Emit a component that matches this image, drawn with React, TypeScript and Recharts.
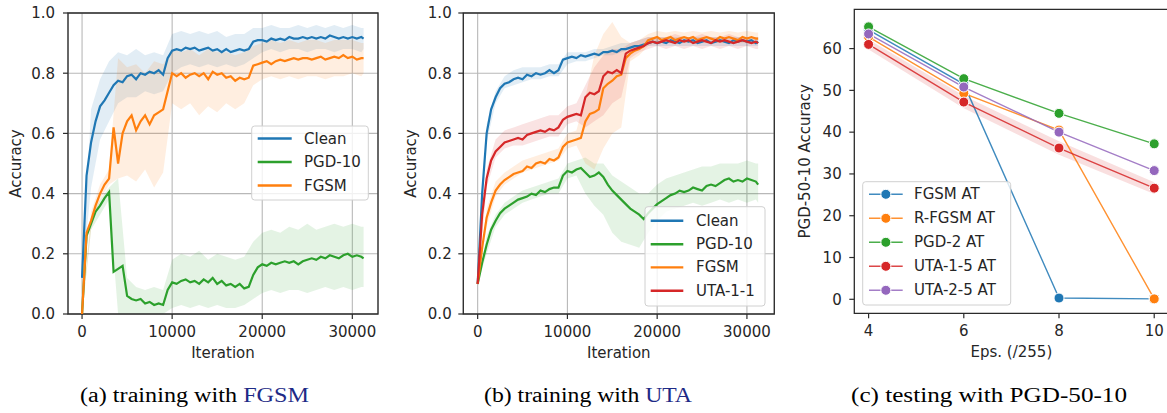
import React from 'react';
import { ComposedChart, Line, Area, XAxis, YAxis, CartesianGrid, ReferenceArea } from 'recharts';

// x positions (training iterations) for the mean curves
const iterations = [
  0, 500, 1000, 1500, 2000, 2500, 3000, 3500, 4000, 4500,
  5000, 5500, 6000, 6500, 7000, 7500, 8000, 8500, 9000, 9500,
  10000, 10500, 11000, 11500, 12000, 12500, 13000, 13500, 14000, 14500,
  15000, 15500, 16000, 16500, 17000, 17500, 18000, 18500, 19000, 19500,
  20000, 20500, 21000, 21500, 22000, 22500, 23000, 23500, 24000, 24500,
  25000, 25500, 26000, 26500, 27000, 27500, 28000, 28500, 29000, 29500,
  30000, 30500, 31000, 31250,
];
// coarser x positions for the shaded min/max bands
const bandIterations = [
  0, 1000, 2000, 3000, 4000, 5000, 6000, 7000, 8000, 9000,
  10000, 11000, 12000, 13000, 14000, 15000, 16000, 17000, 18000, 19000,
  20000, 21000, 22000, 23000, 24000, 25000, 26000, 27000, 28000, 29000,
  30000, 31000, 31250,
];
const iterTicks = [0, 10000, 20000, 30000];
const accTicks = [0, 0.2, 0.4, 0.6, 0.8, 1.0];

// (a) training with FGSM
const aClean = [
  0.12, 0.46, 0.57, 0.64, 0.69, 0.71, 0.735, 0.76, 0.775, 0.77,
  0.79, 0.795, 0.78, 0.80, 0.795, 0.805, 0.80, 0.81, 0.795, 0.85,
  0.875, 0.88, 0.875, 0.885, 0.88, 0.885, 0.875, 0.88, 0.885, 0.875,
  0.88, 0.87, 0.88, 0.87, 0.875, 0.88, 0.875, 0.88, 0.905, 0.91,
  0.91, 0.905, 0.915, 0.91, 0.915, 0.91, 0.92, 0.915, 0.915, 0.92,
  0.915, 0.92, 0.915, 0.92, 0.915, 0.925, 0.92, 0.915, 0.92, 0.915,
  0.92, 0.915, 0.92, 0.915,
];
const aPgd = [
  0.0, 0.26, 0.30, 0.34, 0.36, 0.385, 0.405, 0.14, 0.15, 0.16,
  0.06, 0.05, 0.045, 0.05, 0.035, 0.04, 0.03, 0.035, 0.03, 0.08,
  0.105, 0.10, 0.11, 0.115, 0.105, 0.11, 0.10, 0.115, 0.105, 0.12,
  0.10, 0.11, 0.095, 0.10, 0.09, 0.10, 0.085, 0.09, 0.13, 0.155,
  0.165, 0.16, 0.17, 0.165, 0.17, 0.175, 0.17, 0.175, 0.165, 0.175,
  0.18, 0.185, 0.18, 0.19, 0.185, 0.195, 0.19, 0.185, 0.195, 0.20,
  0.19, 0.195, 0.19, 0.185,
];
const aFgsm = [
  0.0, 0.27, 0.31, 0.36, 0.40, 0.43, 0.45, 0.62, 0.50, 0.60,
  0.64, 0.66, 0.61, 0.64, 0.66, 0.63, 0.66, 0.67, 0.68, 0.74,
  0.80, 0.79, 0.80, 0.785, 0.795, 0.80, 0.79, 0.80, 0.78, 0.805,
  0.795, 0.80, 0.785, 0.79, 0.775, 0.785, 0.78, 0.785, 0.825, 0.83,
  0.835, 0.84, 0.83, 0.84, 0.845, 0.84, 0.845, 0.85, 0.845, 0.85,
  0.85, 0.845, 0.85, 0.855, 0.845, 0.85, 0.855, 0.85, 0.86, 0.85,
  0.855, 0.845, 0.85, 0.85,
];
const aCleanLo = [
  0.12, 0.42, 0.58, 0.64, 0.70, 0.72, 0.72, 0.74, 0.73, 0.74,
  0.80, 0.82, 0.83, 0.82, 0.83, 0.82, 0.83, 0.82, 0.83, 0.85,
  0.87, 0.88, 0.87, 0.88, 0.88, 0.87, 0.88, 0.88, 0.87, 0.88,
  0.88, 0.87, 0.88,
];
const aCleanHi = [
  0.13, 0.68, 0.78, 0.84, 0.87, 0.86, 0.88, 0.86, 0.87, 0.86,
  0.93, 0.94, 0.93, 0.94, 0.93, 0.94, 0.92, 0.93, 0.93, 0.95,
  0.95, 0.96, 0.95, 0.95, 0.96, 0.95, 0.96, 0.95, 0.96, 0.95,
  0.96, 0.95, 0.95,
];
const aPgdLo = [
  0.0, 0.28, 0.33, 0.38, 0.0, 0.0, 0.0, 0.0, 0.0, 0.0,
  0.02, 0.03, 0.02, 0.03, 0.02, 0.03, 0.02, 0.02, 0.03, 0.05,
  0.07, 0.08, 0.07, 0.08, 0.08, 0.07, 0.08, 0.09, 0.08, 0.09,
  0.08, 0.09, 0.09,
];
const aPgdHi = [
  0.0, 0.32, 0.38, 0.42, 0.45, 0.12, 0.09, 0.08, 0.09, 0.08,
  0.18, 0.20, 0.19, 0.21, 0.18, 0.20, 0.19, 0.18, 0.19, 0.24,
  0.27, 0.28, 0.27, 0.29, 0.28, 0.30, 0.28, 0.29, 0.30, 0.29,
  0.30, 0.29, 0.29,
];
const aFgsmLo = [
  0.0, 0.28, 0.38, 0.43, 0.45, 0.46, 0.44, 0.48, 0.42, 0.47,
  0.70, 0.68, 0.70, 0.66, 0.69, 0.67, 0.70, 0.68, 0.70, 0.76,
  0.78, 0.79, 0.78, 0.79, 0.78, 0.79, 0.79, 0.78, 0.79, 0.79,
  0.80, 0.79, 0.80,
];
const aFgsmHi = [
  0.0, 0.34, 0.43, 0.48, 0.85, 0.82, 0.83, 0.80, 0.84, 0.83,
  0.88, 0.87, 0.88, 0.86, 0.88, 0.87, 0.87, 0.86, 0.87, 0.89,
  0.90, 0.91, 0.90, 0.91, 0.90, 0.91, 0.91, 0.90, 0.91, 0.91,
  0.91, 0.90, 0.90,
];

// (b) training with UTA
const bClean = [
  0.10, 0.40, 0.60, 0.68, 0.72, 0.75, 0.765, 0.77, 0.78, 0.785,
  0.78, 0.795, 0.79, 0.80, 0.795, 0.80, 0.81, 0.80, 0.81, 0.845,
  0.85, 0.855, 0.85, 0.86, 0.855, 0.86, 0.865, 0.86, 0.87, 0.87,
  0.875, 0.87, 0.88, 0.88, 0.885, 0.89, 0.89, 0.895, 0.90, 0.905,
  0.90, 0.905, 0.90, 0.91, 0.905, 0.90, 0.91, 0.905, 0.91, 0.90,
  0.905, 0.91, 0.90, 0.905, 0.91, 0.905, 0.90, 0.91, 0.905, 0.91,
  0.905, 0.91, 0.90, 0.905,
];
const bPgd = [
  0.10, 0.17, 0.23, 0.28, 0.31, 0.335, 0.35, 0.36, 0.37, 0.38,
  0.385, 0.39, 0.40, 0.395, 0.41, 0.405, 0.415, 0.42, 0.42, 0.46,
  0.475, 0.47, 0.48, 0.485, 0.47, 0.455, 0.46, 0.47, 0.455, 0.43,
  0.41, 0.395, 0.38, 0.365, 0.35, 0.34, 0.33, 0.315, 0.335, 0.35,
  0.365, 0.375, 0.385, 0.395, 0.40, 0.41, 0.405, 0.41, 0.42, 0.415,
  0.41, 0.425, 0.43, 0.425, 0.435, 0.445, 0.45, 0.44, 0.445, 0.44,
  0.45, 0.445, 0.44, 0.43,
];
const bFgsm = [
  0.10, 0.22, 0.32, 0.37, 0.41, 0.43, 0.445, 0.455, 0.465, 0.47,
  0.475, 0.49, 0.485, 0.50, 0.505, 0.50, 0.515, 0.51, 0.52, 0.555,
  0.57, 0.575, 0.58, 0.585, 0.64, 0.665, 0.67, 0.68, 0.75, 0.765,
  0.775, 0.79, 0.795, 0.85, 0.865, 0.875, 0.88, 0.89, 0.91, 0.915,
  0.92, 0.91, 0.915, 0.92, 0.91, 0.915, 0.92, 0.915, 0.92, 0.91,
  0.915, 0.92, 0.915, 0.91, 0.92, 0.915, 0.92, 0.915, 0.91, 0.92,
  0.915, 0.92, 0.915, 0.915,
];
const bUta = [
  0.10, 0.33, 0.45, 0.51, 0.54, 0.555, 0.57, 0.575, 0.58, 0.585,
  0.58, 0.595, 0.60, 0.605, 0.61, 0.605, 0.615, 0.61, 0.62, 0.645,
  0.655, 0.66, 0.665, 0.66, 0.72, 0.735, 0.73, 0.74, 0.79, 0.805,
  0.80, 0.81, 0.80, 0.865, 0.875, 0.88, 0.885, 0.89, 0.90, 0.905,
  0.90, 0.905, 0.91, 0.905, 0.90, 0.91, 0.905, 0.91, 0.90, 0.905,
  0.91, 0.905, 0.90, 0.91, 0.905, 0.91, 0.905, 0.90, 0.905, 0.91,
  0.905, 0.90, 0.905, 0.90,
];
const bCleanLo = [
  0.10, 0.57, 0.70, 0.75, 0.76, 0.77, 0.78, 0.78, 0.79, 0.79,
  0.83, 0.84, 0.84, 0.85, 0.86, 0.86, 0.87, 0.88, 0.88, 0.89,
  0.89, 0.89, 0.89, 0.89, 0.89, 0.89, 0.89, 0.89, 0.89, 0.89,
  0.89, 0.89, 0.89,
];
const bCleanHi = [
  0.10, 0.63, 0.74, 0.79, 0.81, 0.82, 0.82, 0.82, 0.83, 0.83,
  0.87, 0.87, 0.87, 0.88, 0.88, 0.89, 0.90, 0.90, 0.91, 0.92,
  0.92, 0.92, 0.92, 0.92, 0.92, 0.92, 0.92, 0.92, 0.92, 0.92,
  0.92, 0.92, 0.92,
];
const bPgdLo = [
  0.10, 0.20, 0.29, 0.33, 0.35, 0.37, 0.38, 0.39, 0.40, 0.40,
  0.45, 0.46, 0.40, 0.36, 0.33, 0.27, 0.24, 0.23, 0.22, 0.27,
  0.31, 0.34, 0.35, 0.36, 0.37, 0.36, 0.37, 0.38, 0.37, 0.38,
  0.37, 0.38, 0.37,
];
const bPgdHi = [
  0.10, 0.26, 0.33, 0.37, 0.39, 0.41, 0.42, 0.43, 0.44, 0.45,
  0.50, 0.51, 0.52, 0.50, 0.50, 0.46, 0.44, 0.42, 0.40, 0.40,
  0.43, 0.45, 0.46, 0.47, 0.48, 0.49, 0.49, 0.50, 0.50, 0.50,
  0.51, 0.50, 0.50,
];
const bFgsmLo = [
  0.10, 0.29, 0.39, 0.43, 0.45, 0.47, 0.48, 0.49, 0.50, 0.51,
  0.55, 0.56, 0.50, 0.48, 0.55, 0.60, 0.62, 0.84, 0.86, 0.89,
  0.90, 0.90, 0.90, 0.90, 0.90, 0.90, 0.90, 0.90, 0.90, 0.90,
  0.90, 0.90, 0.90,
];
const bFgsmHi = [
  0.10, 0.35, 0.44, 0.47, 0.49, 0.51, 0.52, 0.53, 0.54, 0.55,
  0.60, 0.61, 0.72, 0.86, 0.93, 0.97, 0.92, 0.90, 0.91, 0.93,
  0.94, 0.935, 0.94, 0.935, 0.94, 0.935, 0.94, 0.935, 0.94, 0.935,
  0.94, 0.935, 0.935,
];
const bUtaLo = [
  0.10, 0.42, 0.52, 0.55, 0.56, 0.56, 0.57, 0.58, 0.59, 0.59,
  0.63, 0.64, 0.62, 0.64, 0.66, 0.70, 0.72, 0.85, 0.87, 0.88,
  0.89, 0.88, 0.89, 0.88, 0.89, 0.88, 0.89, 0.88, 0.89, 0.88,
  0.89, 0.88, 0.88,
];
const bUtaHi = [
  0.10, 0.48, 0.58, 0.61, 0.62, 0.63, 0.64, 0.65, 0.66, 0.66,
  0.69, 0.70, 0.76, 0.82, 0.86, 0.88, 0.88, 0.90, 0.91, 0.92,
  0.92, 0.92, 0.93, 0.92, 0.92, 0.93, 0.92, 0.92, 0.93, 0.92,
  0.92, 0.92, 0.92,
];

// (c) testing with PGD-50-10
const epsValues = [4, 6, 8, 10];
const epsTicks = [4, 6, 8, 10];
const pgdAccTicks = [0, 10, 20, 30, 40, 50, 60];
const cFgsmAt = [64.5, 51.5, 0.3, 0.1];
const cRfgsmAt = [62.8, 49.3, 40.5, 0.1];
const cPgd2At = [65.2, 52.8, 44.5, 37.2];
const cUta15At = [61.0, 47.2, 36.2, 26.6];
const cUta25At = [63.5, 50.8, 40.0, 30.8];
const cUta15Lo = [59.8, 45.7, 34.6, 25.2];
const cUta15Hi = [62.2, 48.7, 37.8, 28.0];

const BLUE = '#1f77b4';
const ORANGE = '#ff7f0e';
const GREEN = '#2ca02c';
const RED = '#d62728';
const PURPLE = '#9467bd';
const INK = '#262626';
const SPINE = '#2b2b2b';
const FONT = '"DejaVu Sans", sans-serif';

type Series = { key: string; name: string; color: string; values: number[]; lo: number[]; hi: number[] };

const seriesA: Series[] = [
  { key: 'clean', name: 'Clean', color: BLUE, values: aClean, lo: aCleanLo, hi: aCleanHi },
  { key: 'pgd', name: 'PGD-10', color: GREEN, values: aPgd, lo: aPgdLo, hi: aPgdHi },
  { key: 'fgsm', name: 'FGSM', color: ORANGE, values: aFgsm, lo: aFgsmLo, hi: aFgsmHi },
];
const seriesB: Series[] = [
  { key: 'clean', name: 'Clean', color: BLUE, values: bClean, lo: bCleanLo, hi: bCleanHi },
  { key: 'pgd', name: 'PGD-10', color: GREEN, values: bPgd, lo: bPgdLo, hi: bPgdHi },
  { key: 'fgsm', name: 'FGSM', color: ORANGE, values: bFgsm, lo: bFgsmLo, hi: bFgsmHi },
  { key: 'uta', name: 'UTA-1-1', color: RED, values: bUta, lo: bUtaLo, hi: bUtaHi },
];
const seriesC = [
  { key: 'fgsmAt', name: 'FGSM AT', color: BLUE, values: cFgsmAt },
  { key: 'rfgsmAt', name: 'R-FGSM AT', color: ORANGE, values: cRfgsmAt },
  { key: 'pgd2At', name: 'PGD-2 AT', color: GREEN, values: cPgd2At },
  { key: 'uta15At', name: 'UTA-1-5 AT', color: RED, values: cUta15At },
  { key: 'uta25At', name: 'UTA-2-5 AT', color: PURPLE, values: cUta25At },
];

const buildRows = (series: Series[]) =>
  iterations.map((it, i) => {
    const row: Record<string, number> = { it };
    series.forEach(s => { row[s.key] = s.values[i]; });
    return row;
  });

const buildBand = (s: Series) => bandIterations.map((it, j) => ({ it, band: [s.lo[j], s.hi[j]] }));

const rowsC = epsValues.map((eps, i) => {
  const row: Record<string, any> = { eps, utaBand: [cUta15Lo[i], cUta15Hi[i]] };
  seriesC.forEach(s => { row[s.key] = s.values[i]; });
  return row;
});

const tickStyle = { fontSize: 15, fill: INK, fontFamily: FONT };
const labelProps = { fontSize: 15, fill: INK, fontFamily: FONT };

interface PanelProps {
  left: number;
  width: number;
  yAxisWidth: number;
  rightMargin: number;
  yLabelOffset: number;
  yTickMargin: number;
  xDomain: [number, number];
  series: Series[];
}

const TrainingPanel: React.FC<PanelProps> = ({ left, width, yAxisWidth, rightMargin, yLabelOffset, yTickMargin, xDomain, series }) => (
  <div style={{ position: 'absolute', left, top: 0 }}>
    <ComposedChart width={width} height={370} data={buildRows(series)} margin={{ top: 13, right: rightMargin, bottom: 12, left: 0 }}>
      <CartesianGrid stroke="#b8b8b8" strokeWidth={1.1} />
      <XAxis
        type="number"
        dataKey="it"
        domain={xDomain}
        allowDataOverflow
        ticks={iterTicks}
        interval={0}
        height={44}
        axisLine={false}
        tickSize={5}
        tickMargin={7}
        tickLine={{ stroke: SPINE, strokeWidth: 1.2 }}
        tick={tickStyle}
        label={{ value: 'Iteration', position: 'insideBottom', offset: 0, ...labelProps }}
      />
      <YAxis
        type="number"
        domain={[0, 1]}
        allowDataOverflow
        ticks={accTicks}
        interval={0}
        width={yAxisWidth}
        axisLine={false}
        tickSize={5}
        tickMargin={yTickMargin}
        tickLine={{ stroke: SPINE, strokeWidth: 1.2 }}
        tick={tickStyle}
        tickFormatter={(v: number) => v.toFixed(1)}
        label={{ value: 'Accuracy', angle: -90, position: 'insideLeft', offset: yLabelOffset, style: { textAnchor: 'middle' }, ...labelProps }}
      />
      {series.map(s => (
        <Area
          key={s.key + 'band'}
          data={buildBand(s)}
          dataKey="band"
          type="linear"
          stroke="none"
          fill={s.color}
          fillOpacity={0.13}
          isAnimationActive={false}
        />
      ))}
      {series.map(s => (
        <Line
          key={s.key}
          dataKey={s.key}
          type="linear"
          stroke={s.color}
          strokeWidth={2.2}
          dot={false}
          isAnimationActive={false}
        />
      ))}
      <ReferenceArea x1={xDomain[0]} x2={xDomain[1]} y1={0} y2={1} fill="none" stroke={SPINE} strokeWidth={1.3} />
    </ComposedChart>
  </div>
);

const TestingPanel: React.FC = () => (
  <div style={{ position: 'absolute', left: 790, top: 0 }}>
    <ComposedChart width={380} height={370} data={rowsC} margin={{ top: 9.3, right: 1.5, bottom: 12.7, left: 0 }}>
      <XAxis
        type="number"
        dataKey="eps"
        domain={[3.7, 10.3]}
        allowDataOverflow
        ticks={epsTicks}
        interval={0}
        height={44}
        axisLine={false}
        tickSize={5}
        tickMargin={7}
        tickLine={{ stroke: SPINE, strokeWidth: 1.2 }}
        tick={tickStyle}
        label={{ value: 'Eps. (/255)', position: 'insideBottom', offset: 0, ...labelProps }}
      />
      <YAxis
        type="number"
        domain={[-3.35, 69.4]}
        allowDataOverflow
        ticks={pgdAccTicks}
        interval={0}
        width={64.3}
        axisLine={false}
        tickSize={5}
        tickMargin={7.6}
        tickLine={{ stroke: SPINE, strokeWidth: 1.2 }}
        tick={tickStyle}
        label={{ value: 'PGD-50-10 Accuracy', angle: -90, position: 'insideLeft', offset: 15, style: { textAnchor: 'middle' }, ...labelProps }}
      />
      <Area dataKey="utaBand" type="linear" stroke="none" fill={RED} fillOpacity={0.15} isAnimationActive={false} />
      {seriesC.map(s => (
        <Line
          key={s.key}
          dataKey={s.key}
          type="linear"
          stroke={s.color}
          strokeOpacity={0.85}
          strokeWidth={1.4}
          dot={{ r: 5, fill: s.color, stroke: '#ffffff', strokeWidth: 1, fillOpacity: 1, strokeOpacity: 1 }}
          activeDot={false}
          isAnimationActive={false}
        />
      ))}
      <ReferenceArea x1={3.7} x2={10.3} y1={-3.35} y2={69.4} fill="none" stroke={SPINE} strokeWidth={1.3} />
    </ComposedChart>
  </div>
);

interface LegendBoxProps {
  x: number;
  y: number;
  w: number;
  h: number;
  rowYs: number[];
  items: { name: string; color: string }[];
  lineX1: number;
  lineX2: number;
  textX: number;
  markers?: boolean;
}

const LegendBox: React.FC<LegendBoxProps> = ({ x, y, w, h, rowYs, items, lineX1, lineX2, textX, markers }) => (
  <g>
    <rect x={x} y={y} width={w} height={h} rx={3} ry={3} fill="#ffffff" fillOpacity={0.8} stroke="#d0d0d0" strokeWidth={1} />
    {items.map((it, i) => (
      <g key={it.name}>
        <line
          x1={lineX1}
          x2={lineX2}
          y1={rowYs[i]}
          y2={rowYs[i]}
          stroke={it.color}
          strokeWidth={markers ? 1.4 : 2.4}
          strokeOpacity={markers ? 0.85 : 1}
        />
        {markers && <circle cx={(lineX1 + lineX2) / 2} cy={rowYs[i]} r={5} fill={it.color} stroke="#ffffff" strokeWidth={1} />}
        <text x={textX} y={rowYs[i]} dominantBaseline="central" fontSize={15} fill={INK} fontFamily={FONT}>
          {it.name}
        </text>
      </g>
    ))}
  </g>
);

const CAPTION_FONT = '"Liberation Serif", "Times New Roman", serif';
const LINK = '#1e2a86';

const Overlay: React.FC = () => (
  <svg width={1167} height={413} style={{ position: 'absolute', left: 0, top: 0, pointerEvents: 'none' }}>
    <LegendBox x={251.7} y={126} w={116.6} h={74} rowYs={[138.5, 162, 185.5]} items={seriesA} lineX1={257.7} lineX2={291.7} textX={304} />
    <LegendBox x={645} y={206.7} w={120} h={99.3} rowYs={[220.7, 244.2, 267.4, 290.7]} items={seriesB} lineX1={650.7} lineX2={683.3} textX={696} />
    <LegendBox x={862.7} y={181.7} w={148} h={123.3} rowYs={[194.3, 218.3, 242.3, 266.3, 290.3]} items={seriesC} lineX1={869} lineX2={902.7} textX={914} markers />
    <text x={80} y={402} fontSize={20} fontFamily={CAPTION_FONT} fill="#000" textLength={229} lengthAdjust="spacingAndGlyphs">
      (a) training with <tspan fill={LINK}>FGSM</tspan>
    </text>
    <text x={484} y={402} fontSize={20} fontFamily={CAPTION_FONT} fill="#000" textLength={208} lengthAdjust="spacingAndGlyphs">
      (b) training with <tspan fill={LINK}>UTA</tspan>
    </text>
    <text x={851} y={402} fontSize={20} fontFamily={CAPTION_FONT} fill="#000" textLength={276} lengthAdjust="spacingAndGlyphs">
      (c) testing with PGD-50-10
    </text>
  </svg>
);

const App: React.FC = () => (
  <div style={{ position: 'absolute', left: 0, top: 0, width: 1167, height: 413, overflow: 'hidden', background: '#ffffff' }}>
    <TrainingPanel left={0} width={390} yAxisWidth={68} rightMargin={12} yLabelOffset={16} yTickMargin={8} xDomain={[-1560, 32850]} series={seriesA} />
    <TrainingPanel left={390} width={400} yAxisWidth={73.3} rightMargin={15.7} yLabelOffset={21} yTickMargin={6.6} xDomain={[-1600, 33050]} series={seriesB} />
    <TestingPanel />
    <Overlay />
  </div>
);

export default App;
